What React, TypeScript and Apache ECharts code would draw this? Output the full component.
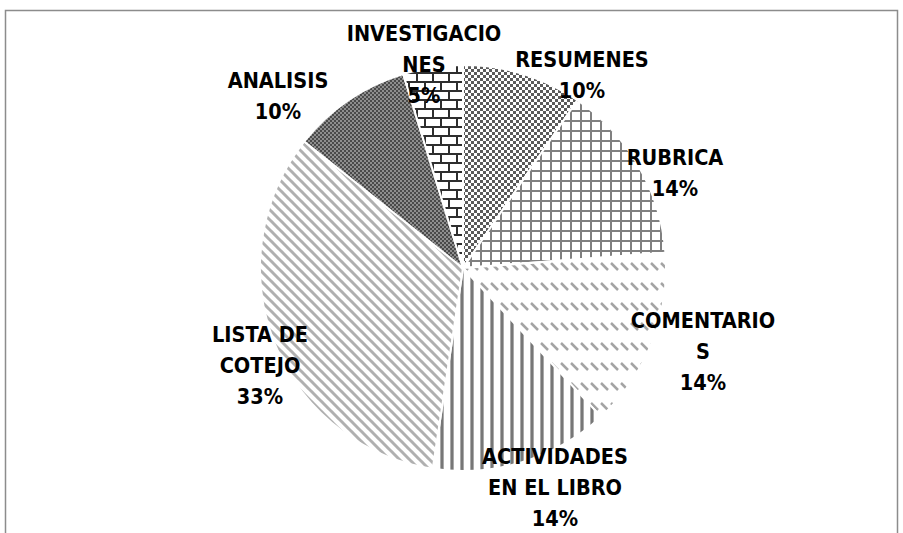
import React, { useEffect, useRef } from "react";
import * as echarts from "echarts";

const CATEGORIES = [
  "RESUMENES",
  "RUBRICA",
  "COMENTARIOS",
  "ACTIVIDADES EN EL LIBRO",
  "LISTA DE COTEJO",
  "ANALISIS",
  "INVESTIGACIONES",
];
// label text as wrapped in the reference
const LABEL_LINES = [
  "RESUMENES",
  "RUBRICA",
  "COMENTARIO\nS",
  "ACTIVIDADES\nEN EL LIBRO",
  "LISTA DE\nCOTEJO",
  "ANALISIS",
  "INVESTIGACIO\nNES",
];
const VALUES = [2, 3, 3, 3, 7, 2, 1];

// label block centres (px)
const LABEL_POS: [number, number][] = [
  [582, 75],
  [675, 173],
  [703, 351],
  [555, 487],
  [260, 365],
  [278, 96],
  [424, 64],
];

function tile(w: number, h: number, draw: (c: CanvasRenderingContext2D) => void) {
  const cv = document.createElement("canvas");
  cv.width = w;
  cv.height = h;
  const ctx = cv.getContext("2d")!;
  ctx.fillStyle = "#ffffff";
  ctx.fillRect(0, 0, w, h);
  draw(ctx);
  return cv;
}

function makePatterns() {
  const checker = tile(6, 6, (c) => {
    c.fillStyle = "#5a5a5a";
    c.fillRect(0, 0, 3, 3);
    c.fillRect(3, 3, 3, 3);
  });
  const grid = tile(10, 10, (c) => {
    c.fillStyle = "#808080";
    c.fillRect(0, 0, 10, 2);
    c.fillRect(0, 0, 2, 10);
  });
  const dashDiag = tile(10, 20, (c) => {
    c.strokeStyle = "#a4a4a4";
    c.lineWidth = 2.5;
    c.beginPath();
    c.moveTo(1, 3);
    c.lineTo(8, 10);
    c.stroke();
  });
  const vert = tile(10, 2, (c) => {
    c.fillStyle = "#aaaaaa";
    c.fillRect(0, 0, 4, 2);
    c.fillStyle = "#777777";
    c.fillRect(1, 0, 2, 2);
  });
  const diag = tile(10, 10, (c) => {
    c.strokeStyle = "#b0b0b0";
    c.lineWidth = 3;
    for (const k of [-10, 0, 10]) {
      c.beginPath();
      c.moveTo(k - 1, -1);
      c.lineTo(k + 11, 11);
      c.stroke();
    }
  });
  const fine = tile(4, 4, (c) => {
    c.fillStyle = "#4a4a4a";
    c.fillRect(0, 0, 4, 4);
    c.fillStyle = "#8e8e8e";
    c.fillRect(0, 0, 2, 2);
    c.fillRect(2, 2, 2, 2);
  });
  const brick = tile(16, 18, (c) => {
    c.fillStyle = "#2e2e2e";
    c.fillRect(0, 0, 16, 2);
    c.fillRect(0, 9, 16, 2);
    c.fillRect(0, 0, 2, 9);
    c.fillRect(8, 9, 2, 9);
  });
  return [checker, grid, dashDiag, vert, diag, fine, brick];
}

export default function App() {
  const ref = useRef<HTMLDivElement>(null);
  useEffect(() => {
    if (!ref.current) return;
    const chart = echarts.init(ref.current, undefined, { renderer: "svg" });
    const pats = makePatterns();
    chart.setOption({
      animation: false,
      backgroundColor: "#ffffff",
      graphic: [
        {
          type: "rect",
          shape: { x: 5.5, y: 10.5, width: 892, height: 600 },
          style: { fill: "none", stroke: "#8c8c8c", lineWidth: 1.5 },
          silent: true,
        },
      ],
      series: [
        {
          type: "pie",
          center: [463, 268],
          radius: 203,
          startAngle: 90,
          clockwise: true,
          percentPrecision: 0,
          avoidLabelOverlap: false,
          itemStyle: { borderColor: "#ffffff", borderWidth: 2 },
          labelLine: { show: false },
          label: {
            show: true,
            position: "outside",
            color: "#000000",
            fontWeight: "bold",
            fontSize: 21.5,
            lineHeight: 31,
            align: "center",
            fontFamily: "'Liberation Sans Narrow', 'DejaVu Sans Condensed', 'Open Sans', sans-serif",
            formatter: (p: any) => `${LABEL_LINES[p.dataIndex]}\n${p.percent}%`,
          },
          labelLayout: (p: any) => ({
            x: LABEL_POS[p.dataIndex][0],
            y: LABEL_POS[p.dataIndex][1],
            align: "center",
            verticalAlign: "middle",
          }),
          data: CATEGORIES.map((name, i) => ({
            name,
            value: VALUES[i],
            itemStyle: { color: { image: pats[i], repeat: "repeat" } },
          })),
        },
      ],
    });
    return () => chart.dispose();
  }, []);
  return (
    <div
      ref={ref}
      style={{ position: "fixed", left: 0, top: 0, width: 903, height: 533 }}
    />
  );
}
